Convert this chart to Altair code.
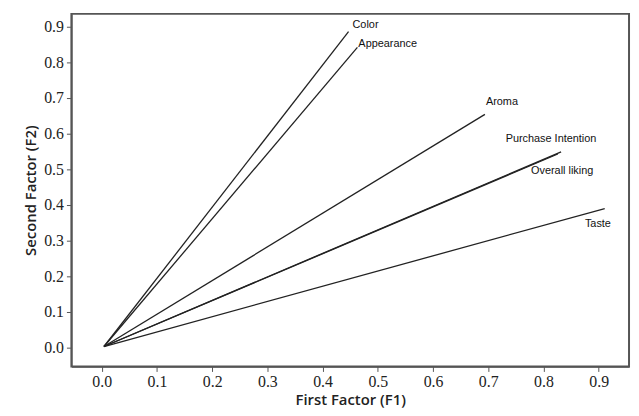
import altair as alt
import pandas as pd

attributes = ["Color", "Appearance", "Aroma", "Purchase Intention", "Overall liking", "Taste"]
f1 = [0.447, 0.463, 0.694, 0.832, 0.826, 0.911]
f2 = [0.886, 0.842, 0.654, 0.549, 0.543, 0.390]
origin_f1 = 0.004
origin_f2 = 0.003
tick_vals = [0.0, 0.1, 0.2, 0.3, 0.4, 0.5, 0.6, 0.7, 0.8, 0.9]

df = pd.DataFrame({
    "attr": attributes,
    "f1": f1,
    "f2": f2,
    "x0": [origin_f1] * len(attributes),
    "y0": [origin_f2] * len(attributes),
})

W, H = 563, 356

xs = alt.Scale(domain=[-0.055, 0.955], nice=False, zero=False)
ys = alt.Scale(domain=[-0.053, 0.936], nice=False, zero=False)

serif = "Liberation Serif"

common = dict(values=tick_vals, format=".1f", grid=False, labelOverlap=False,
              labelFont=serif, labelFontSize=16, labelColor="#222",
              titleFont="Open Sans", titleFontSize=15, titleFontWeight=600, titleColor="#222",
              tickSize=5, tickColor="#555", domainColor="#555", domainWidth=1.5)
xaxis = alt.Axis(title="First Factor (F1)", labelPadding=2, titlePadding=3, **common)
yaxis = alt.Axis(title="Second Factor (F2)", labelPadding=3, titlePadding=5, **common)

lines = alt.Chart(df).mark_rule(color="#222", strokeWidth=1.3).encode(
    x=alt.X("x0:Q", scale=xs, axis=xaxis),
    y=alt.Y("y0:Q", scale=ys, axis=yaxis),
    x2="f1:Q",
    y2="f2:Q",
)

offsets = {
    "Color": (4, -7),
    "Appearance": (1, -3),
    "Aroma": (1, -13),
    "Purchase Intention": (-56, -13),
    "Overall liking": (-27, 17),
    "Taste": (-20, 16),
}

texts = []
for name in attributes:
    dx, dy = offsets[name]
    texts.append(
        alt.Chart(df).transform_filter(alt.datum.attr == name).mark_text(
            align="left", baseline="middle", dx=dx, dy=dy,
            font="Liberation Sans", fontSize=11, color="#111"
        ).encode(x=alt.X("f1:Q", scale=xs, axis=xaxis),
                 y=alt.Y("f2:Q", scale=ys, axis=yaxis), text="attr:N")
    )

chart = alt.layer(lines, *texts).properties(
    width=W, height=H,
    autosize=alt.AutoSizeParams(type="none"),
    padding={"left": 64, "top": 4, "right": 2, "bottom": 40},
).configure(
    background="white",
    view=alt.ViewConfig(stroke="#555555", strokeWidth=2, strokeOpacity=1),
)

chart.save("out.html", embed_options={"renderer": "svg", "actions": False})
